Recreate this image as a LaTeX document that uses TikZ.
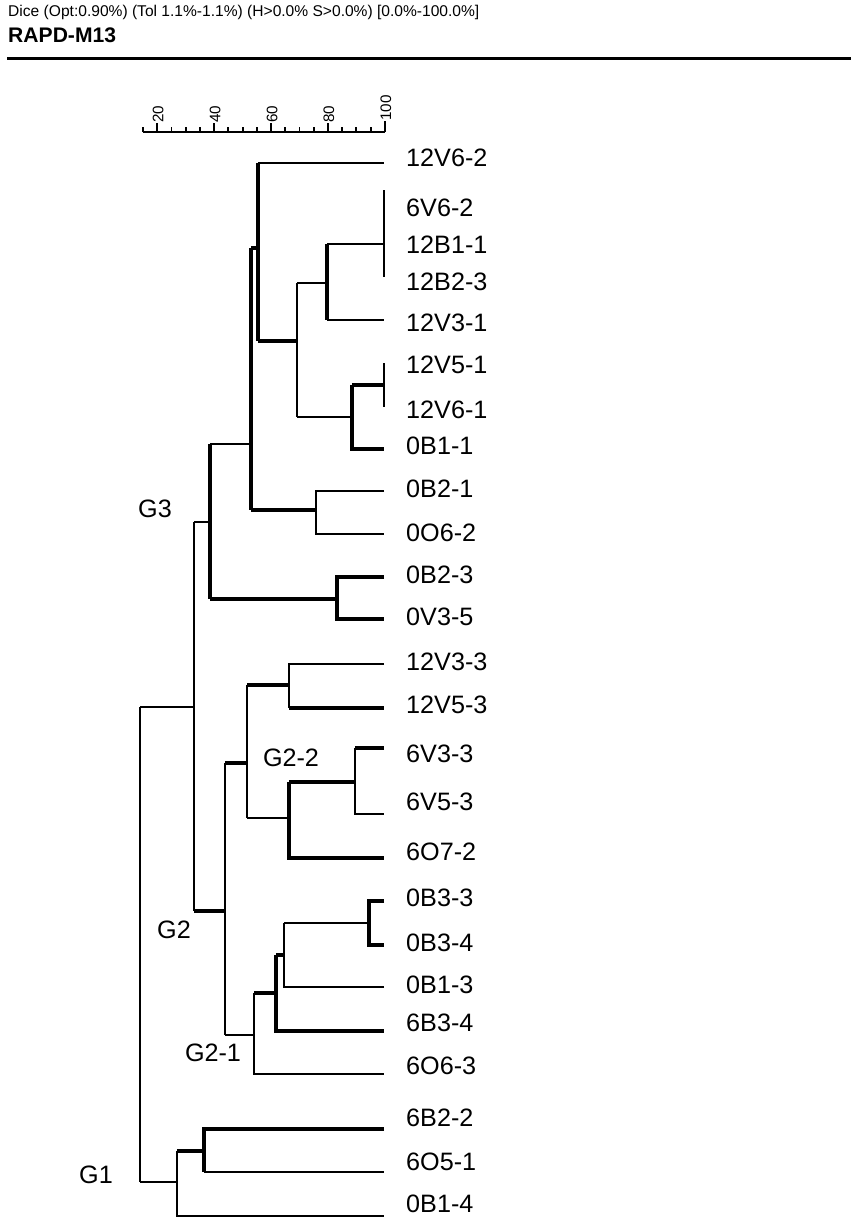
\documentclass[tikz,border=0pt]{standalone}
\usepackage{fontspec}
\setmainfont{Liberation Sans}
\tikzset{
  br/.style={line width=1.6pt},
  brt/.style={line width=2.8pt},
  leaf/.style={anchor=west,inner sep=0pt,font=\fontsize{21.5}{21.5}\selectfont},
  grp/.style={inner sep=0pt,font=\fontsize{21.5}{21.5}\selectfont},
  tick/.style={inner sep=0pt,anchor=west,rotate=90,font=\fontsize{13}{13}\selectfont}
}
\begin{document}
\begin{tikzpicture}[x=0.03cm,y=-0.03cm]
            \useasboundingbox (0,0) rectangle (851,1223);

            \node[anchor=west,inner sep=0pt,font=\fontsize{13.3}{13.3}\selectfont] (hdr) at (8,12)
             {Dice (Opt:0.90\%) (Tol 1.1\%-1.1\%) (H>0.0\% S>0.0\%) [0.0\%-100.0\%]};
            \node[anchor=west,inner sep=0pt,font=\fontsize{18}{18}\selectfont\bfseries] (ttl) at (8,35) {RAPD-M13};
            \draw[line width=2.8pt] (7,58.5) -- (851,58.5);

            % similarity scale
            \draw[br] (143,132) -- (385,132);
            \foreach \v in {15,20,...,95}
             \draw[br] ({143+(\v-15)*2.845},132) -- ++(0,-5);
            \foreach \v in {20,40,60,80}{
             \draw[br] ({143+(\v-15)*2.845},132) -- ++(0,-9);
             \node[tick] (s\v) at ({144+(\v-15)*2.845},123) {\v};
            }
            \draw[br] (384.8,132) -- (384.8,121);
            \node[tick] (s100) at (386,121) {100};

            % strain names
            \foreach \lab/\yy [count=\i] in {12V6-2/158,6V6-2/208,12B1-1/245,12B2-3/282,12V3-1/323,
             12V5-1/365,12V6-1/410,0B1-1/446,0B2-1/489,0O6-2/533,0B2-3/575,0V3-5/617,12V3-3/662,
             12V5-3/705,6V3-3/754,6V5-3/802,6O7-2/852,0B3-3/898,0B3-4/943,0B1-3/985,6B3-4/1023,
             6O6-3/1066,6B2-2/1118,6O5-1/1162,0B1-4/1204}
             \node[leaf] (l\i) at (406,\yy) {\lab};

            % G3
            \draw[br] (258,163) -- (384,163);
            \draw[brt] (258,163) -- (258,341);
            \draw[brt] (251,248) -- (258,248);
            \draw[br] (384,190) -- (384,277);
            \draw[br] (327,244) -- (384,244);
            \draw[brt] (327,244) -- (327,320);
            \draw[br] (327,320) -- (384,320);
            \draw[br] (297,283) -- (327,283);
            \draw[br] (297,283) -- (297,417);
            \draw[brt] (258,341) -- (297,341);
            \draw[br] (384,363) -- (384,407);
            \draw[brt] (352,385) -- (384,385);
            \draw[brt] (352,385) -- (352,449) -- (384,449);
            \draw[br] (297,417) -- (352,417);
            \draw[br] (384,491) -| (316,534) -- (384,534);
            \draw[brt] (251,510) -- (316,510);
            \draw[brt] (251,248) -- (251,510);
            \draw[br] (210,444) -- (251,444);
            \draw[brt] (384,577) -| (337,619) -- (384,619);
            \draw[brt] (210,599) -- (337,599);
            \draw[brt] (210,444) -- (210,599);
            \draw[br] (194,522) -- (210,522);

            % G2-2
            \draw[br] (384,664) -| (289,708);
            \draw[brt] (289,708) -- (384,708);
            \draw[brt] (247,685) -- (289,685);
            \draw[brt] (384,748) -- (355,748);
            \draw[br] (355,748) |- (384,814);
            \draw[brt] (289,782) -- (355,782);
            \draw[brt] (289,782) |- (384,858);
            \draw[br] (247,818) -- (289,818);
            \draw[br] (247,685) -- (247,818);
            \draw[brt] (225,763) -- (247,763);

            % G2-1
            \draw[brt] (384,901) -| (369,945) -- (384,945);
            \draw[br] (284,923) -- (369,923);
            \draw[br] (384,987) -| (284,923);
            \draw[brt] (276,955) -- (284,955);
            \draw[brt] (276,955) |- (384,1031);
            \draw[brt] (254,993) -- (276,993);
            \draw[br] (254,993) |- (384,1074);
            \draw[br] (225,1035) -- (254,1035);
            \draw[br] (225,763) -- (225,1035);
            \draw[brt] (194,911) -- (225,911);
            \draw[br] (194,522) -- (194,911);
            \draw[br] (140,707) -- (194,707);

            % G1
            \draw[brt] (384,1129) -| (204,1172);
            \draw[br] (204,1172) -- (384,1172);
            \draw[brt] (177,1151) -- (204,1151);
            \draw[br] (177,1151) |- (384,1216);
            \draw[br] (140,1182) -- (177,1182);
            \draw[br] (140,707) -- (140,1182);

            \node[grp] (g3) at (155,509) {G3};
            \node[grp] (g2) at (174,930) {G2};
            \node[grp] (g22) at (291,758) {G2-2};
            \node[grp] (g21) at (213,1053) {G2-1};
            \node[grp] (g1) at (96,1175) {G1};
\end{tikzpicture}
\end{document}
